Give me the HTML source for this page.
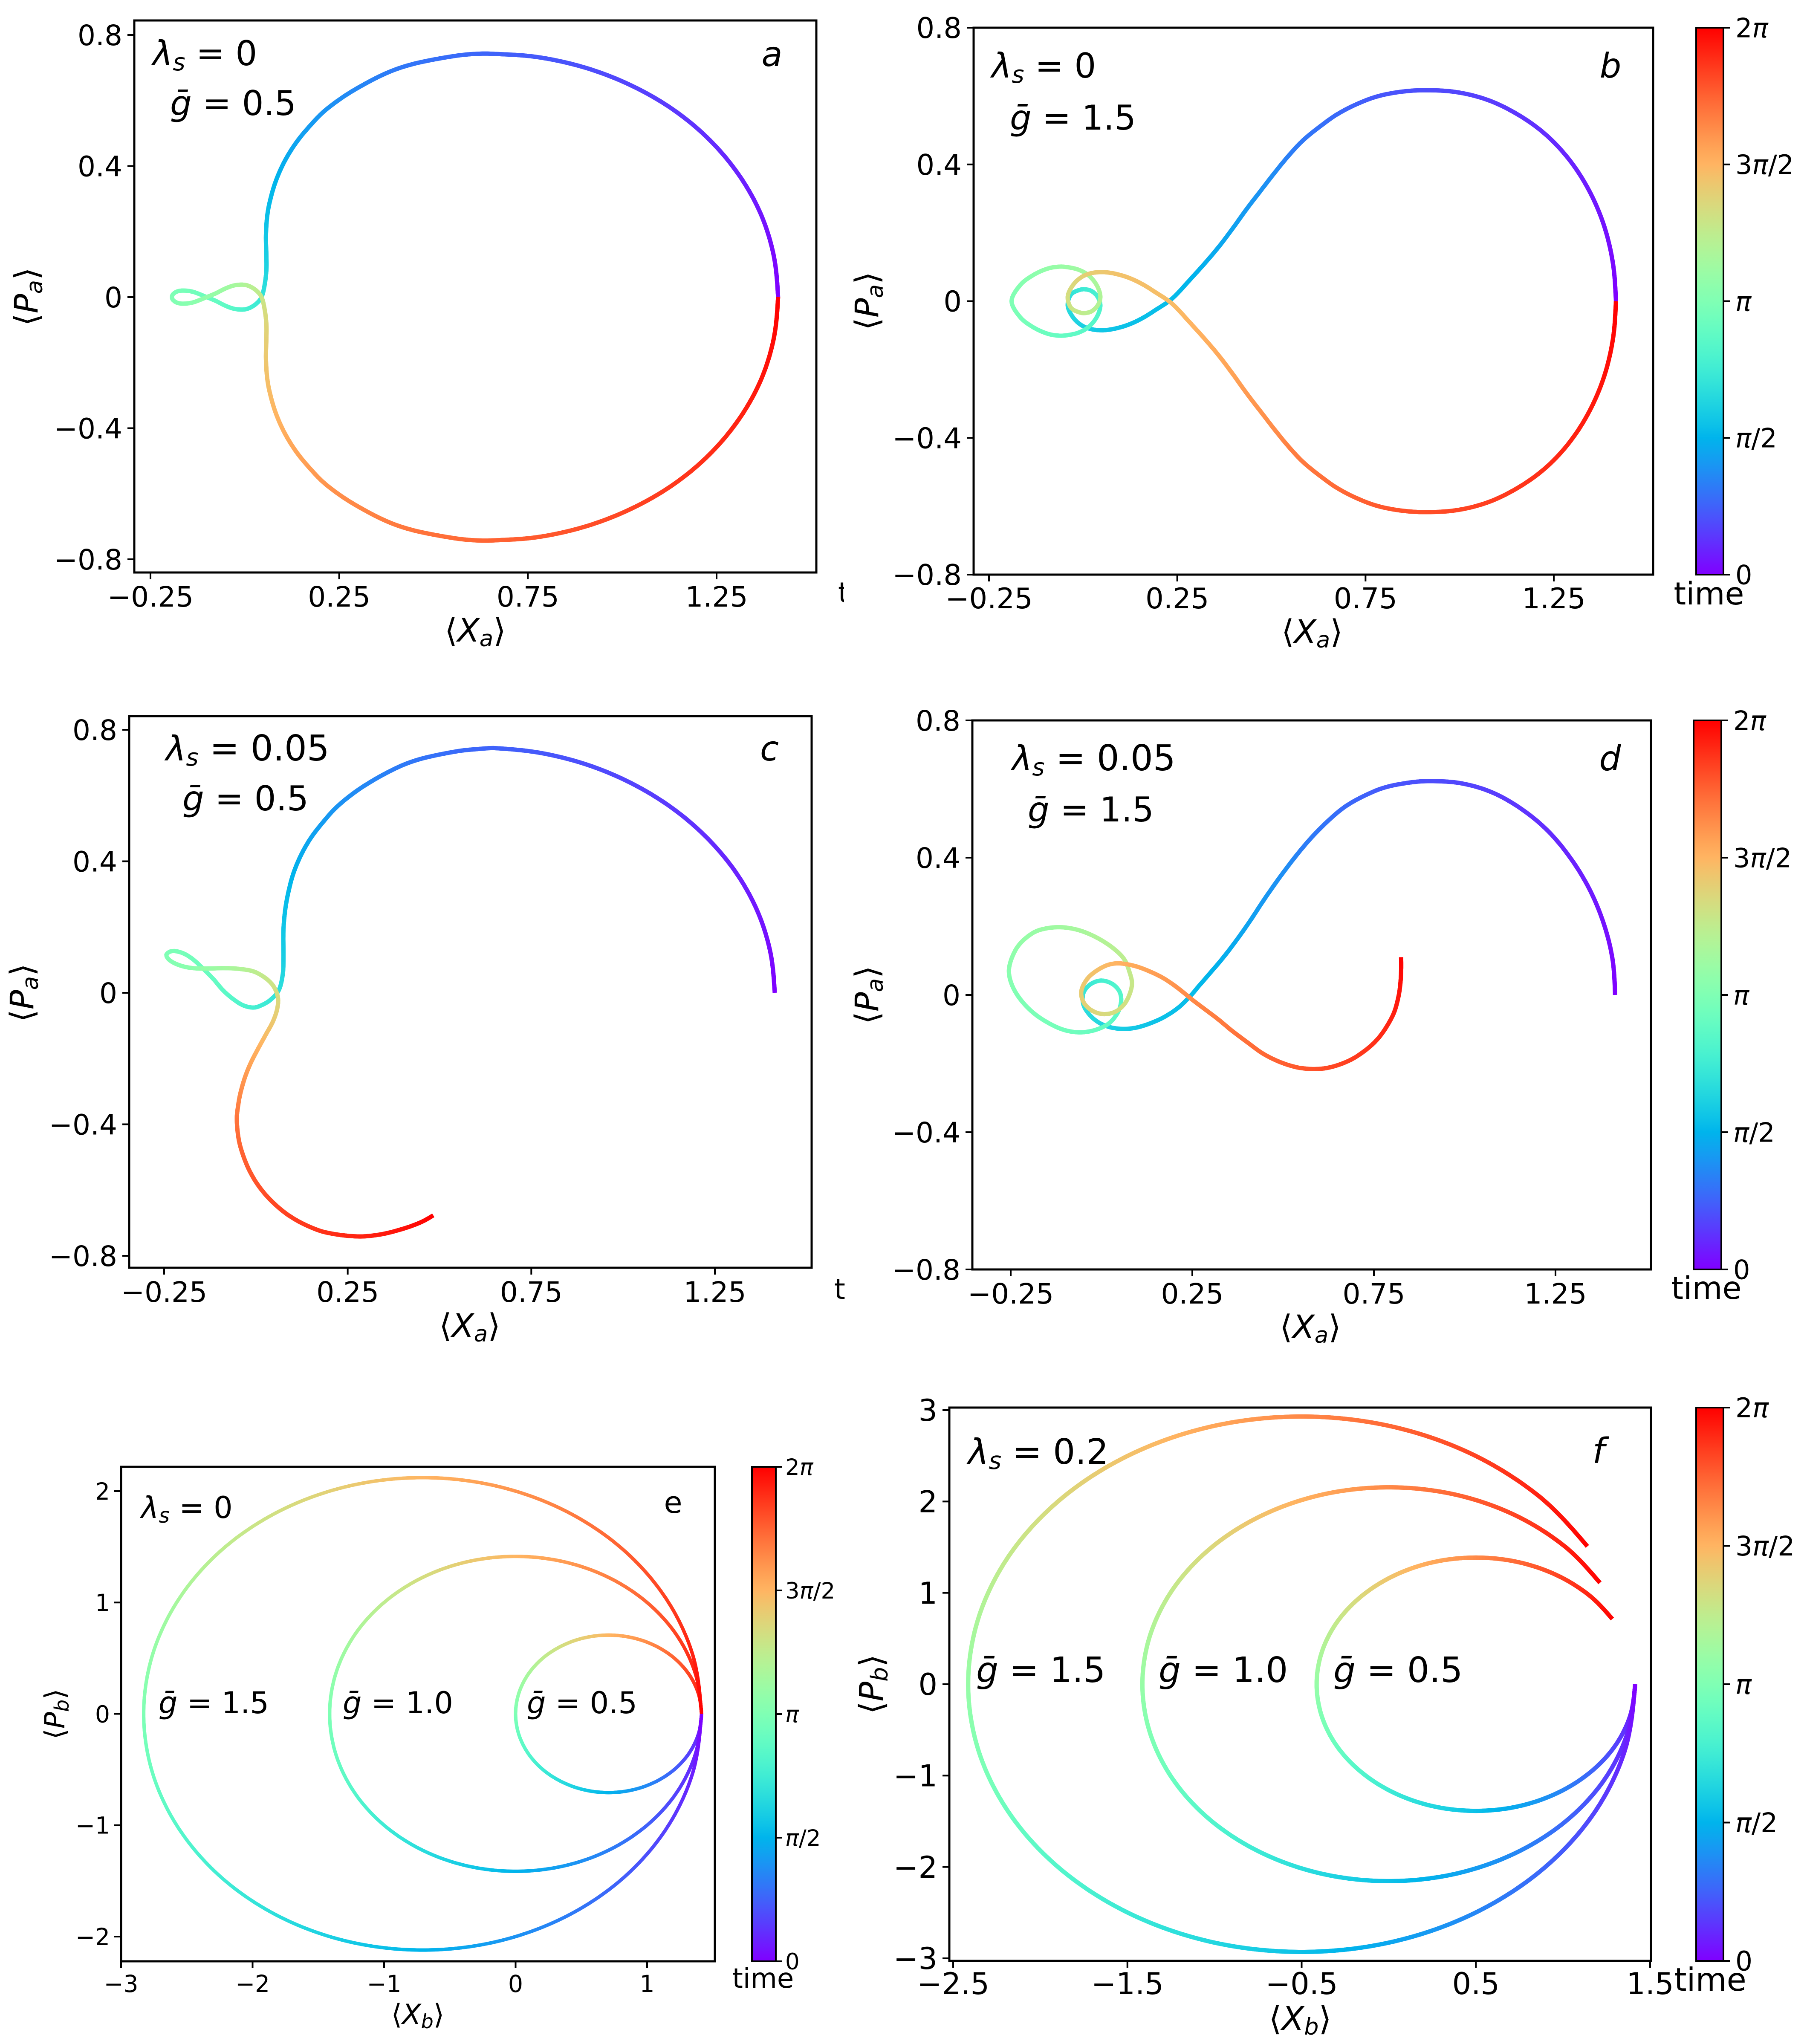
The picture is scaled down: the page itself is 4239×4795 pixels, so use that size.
<!DOCTYPE html>
<html lang="en">
<head>
<meta charset="utf-8">
<title>Phase-space trajectories</title>
<style>
html,body{margin:0;padding:0;background:#fff}
svg{display:block}
text{font-family:"DejaVu Sans","Liberation Sans",sans-serif;fill:#000}
.i{font-style:italic}
</style>
</head>
<body>
<svg id="figure" xmlns="http://www.w3.org/2000/svg" width="4239" height="4795" viewBox="0 0 4239 4795">
<defs>
<linearGradient id="rainbow-grad" x1="0" y1="1" x2="0" y2="0"></linearGradient>
<clipPath id="clip-t"><rect x="1900" y="1340" width="80" height="100"/></clipPath>
</defs>
<rect x="0" y="0" width="4239" height="4795" fill="#fff"/>
<g id="plots"></g>

<g font-size="80">
<text x="358" y="153"><tspan class="i">λ</tspan><tspan class="i" font-size="56" dy="12">s</tspan><tspan dy="-12"> = 0</tspan></text>
<text x="399" y="270"><tspan class="i">ḡ</tspan> = 0.5</text>
<text class="i" x="1811" y="155" text-anchor="middle">a</text>
<text x="1115" y="1505" text-anchor="middle" font-size="76">⟨<tspan class="i">X</tspan><tspan class="i" font-size="53" dy="11">a</tspan><tspan dy="-11">⟩</tspan></text>
<text x="88" y="696" text-anchor="middle" font-size="76" transform="rotate(-90 88 696)">⟨<tspan class="i">P</tspan><tspan class="i" font-size="53" dy="11">a</tspan><tspan dy="-11">⟩</tspan></text>
<text x="1966" y="1413" font-size="66" clip-path="url(#clip-t)">t</text>
</g>

<g font-size="80">
<text x="2326" y="182"><tspan class="i">λ</tspan><tspan class="i" font-size="56" dy="12">s</tspan><tspan dy="-12"> = 0</tspan></text>
<text x="2369" y="304"><tspan class="i">ḡ</tspan> = 1.5</text>
<text class="i" x="3778" y="182" text-anchor="middle">b</text>
<text x="3078" y="1508" text-anchor="middle" font-size="76">⟨<tspan class="i">X</tspan><tspan class="i" font-size="53" dy="11">a</tspan><tspan dy="-11">⟩</tspan></text>
<text x="2060" y="706" text-anchor="middle" font-size="76" transform="rotate(-90 2060 706)">⟨<tspan class="i">P</tspan><tspan class="i" font-size="53" dy="11">a</tspan><tspan dy="-11">⟩</tspan></text>
<text x="4009" y="1418" text-anchor="middle" font-size="73">time</text>
</g>

<g font-size="80">
<text x="389" y="1784"><tspan class="i">λ</tspan><tspan class="i" font-size="56" dy="12">s</tspan><tspan dy="-12" font-size="83"> = 0.05</tspan></text>
<text x="428" y="1901"><tspan class="i">ḡ</tspan> = 0.5</text>
<text class="i" x="1805" y="1784" text-anchor="middle">c</text>
<text x="1102" y="3136" text-anchor="middle" font-size="76">⟨<tspan class="i">X</tspan><tspan class="i" font-size="53" dy="11">a</tspan><tspan dy="-11">⟩</tspan></text>
<text x="78" y="2329" text-anchor="middle" font-size="76" transform="rotate(-90 78 2329)">⟨<tspan class="i">P</tspan><tspan class="i" font-size="53" dy="11">a</tspan><tspan dy="-11">⟩</tspan></text>
<text x="1957" y="3047" font-size="66">t</text>
</g>

<g font-size="80">
<text x="2374" y="1807"><tspan class="i">λ</tspan><tspan class="i" font-size="56" dy="12">s</tspan><tspan dy="-12" font-size="83"> = 0.05</tspan></text>
<text x="2411" y="1927"><tspan class="i">ḡ</tspan> = 1.5</text>
<text class="i" x="3777" y="1807" text-anchor="middle">d</text>
<text x="3074" y="3139" text-anchor="middle" font-size="76">⟨<tspan class="i">X</tspan><tspan class="i" font-size="53" dy="11">a</tspan><tspan dy="-11">⟩</tspan></text>
<text x="2060" y="2334" text-anchor="middle" font-size="76" transform="rotate(-90 2060 2334)">⟨<tspan class="i">P</tspan><tspan class="i" font-size="53" dy="11">a</tspan><tspan dy="-11">⟩</tspan></text>
<text x="4003" y="3047" text-anchor="middle" font-size="73">time</text>
</g>

<g font-size="70">
<text x="331" y="3561"><tspan class="i">λ</tspan><tspan class="i" font-size="49" dy="11">s</tspan><tspan dy="-11"> = 0</tspan></text>
<text x="372" y="4019"><tspan class="i">ḡ</tspan> = 1.5</text>
<text x="804" y="4019"><tspan class="i">ḡ</tspan> = 1.0</text>
<text x="1236" y="4019"><tspan class="i">ḡ</tspan> = 0.5</text>
<text x="1579" y="3549" text-anchor="middle">e</text>
<text x="980" y="4748" text-anchor="middle" font-size="65">⟨<tspan class="i">X</tspan><tspan class="i" font-size="46" dy="10">b</tspan><tspan dy="-10">⟩</tspan></text>
<text x="151" y="4021" text-anchor="middle" font-size="65" transform="rotate(-90 151 4021)">⟨<tspan class="i">P</tspan><tspan class="i" font-size="46" dy="10">b</tspan><tspan dy="-10">⟩</tspan></text>
<text x="1790" y="4663" text-anchor="middle" font-size="64">time</text>
</g>

<g font-size="82">
<text x="2271" y="3434"><tspan class="i">λ</tspan><tspan class="i" font-size="57" dy="12">s</tspan><tspan dy="-12"> = 0.2</tspan></text>
<text x="2290" y="3946"><tspan class="i">ḡ</tspan> = 1.5</text>
<text x="2718" y="3946"><tspan class="i">ḡ</tspan> = 1.0</text>
<text x="3128" y="3946"><tspan class="i">ḡ</tspan> = 0.5</text>
<text class="i" x="3750" y="3432" text-anchor="middle">f</text>
<text x="3050" y="4762" text-anchor="middle" font-size="77">⟨<tspan class="i">X</tspan><tspan class="i" font-size="54" dy="11">b</tspan><tspan dy="-11">⟩</tspan></text>
<text x="2071" y="3951" text-anchor="middle" font-size="77" transform="rotate(-90 2071 3951)">⟨<tspan class="i">P</tspan><tspan class="i" font-size="54" dy="11">b</tspan><tspan dy="-11">⟩</tspan></text>
<text x="4012" y="4670" text-anchor="middle" font-size="75">time</text>
</g>
</svg>

<script>
// ---- tick values and labels ----
const xTicksA = [-0.25, 0.25, 0.75, 1.25];
const xTickLabelsA = ['−0.25', '0.25', '0.75', '1.25'];
const yTicksA = [0.8, 0.4, 0, -0.4, -0.8];
const yTickLabelsA = ['0.8', '0.4', '0', '−0.4', '−0.8'];
const xTicksE = [-3, -2, -1, 0, 1];
const xTickLabelsE = ['−3', '−2', '−1', '0', '1'];
const yTicksE = [2, 1, 0, -1, -2];
const yTickLabelsE = ['2', '1', '0', '−1', '−2'];
const xTicksF = [-2.5, -1.5, -0.5, 0.5, 1.5];
const xTickLabelsF = ['−2.5', '−1.5', '−0.5', '0.5', '1.5'];
const yTicksF = [3, 2, 1, 0, -1, -2, -3];
const yTickLabelsF = ['3', '2', '1', '0', '−1', '−2', '−3'];
const timeTicks = [0, 0.25, 0.5, 0.75, 1];
const timeTickLabels = ['0', 'π/2', 'π', '3π/2', '2π'];

// ---- panel a: time (fraction of 2π), X, P ----
const aT = [0,.014,.028,.043,.057,.071,.085,.1,.114,.128,.134,.14,.15,.157,.165,.175,.185,.198,.21,.222,.235,.25,.26,.27,.285,.3,.315,.34,.365,.38,.395,.41,.425,.44,.45,.46,.47,.478,.485,.492,.497,.5,
.503,.508,.515,.522,.53,.54,.55,.56,.575,.59,.605,.62,.635,.66,.685,.7,.715,.73,.74,.75,.765,.778,.79,.802,.815,.825,.835,.843,.85,.86,.866,.872,.886,.9,.915,.929,.943,.957,.972,.986,1];
const aX = [1.413,1.401,1.367,1.31,1.233,1.139,1.029,.908,.778,.651,.6,.548,.461,.409,.366,.314,.262,.21,.172,.137,.107,.085,.07,.06,.056,.057,.057,.0505,.042,.025,.006,-.011,-.031,-.054,-.076,-.099,-.122,-.14,-.163,-.18,-.191,-.193,
-.191,-.18,-.163,-.14,-.122,-.099,-.076,-.054,-.031,-.011,.006,.025,.042,.0505,.057,.057,.056,.06,.07,.085,.107,.137,.172,.21,.262,.314,.366,.409,.461,.548,.6,.651,.778,.908,1.029,1.139,1.233,1.31,1.367,1.401,1.413];
const aP = [0,.129,.254,.3715,.478,.569,.643,.698,.732,.7427,.7415,.7345,.7156,.6987,.6788,.648,.612,.567,.522,.473,.418,.363,.309,.254,.189,.129,.08,.025,-.005,-.025,-.036,-.038,-.035,-.025,-.012,-.001,.01,.017,.02,.017,.008,0,
-.008,-.017,-.02,-.017,-.01,.001,.012,.025,.035,.038,.036,.025,.005,-.025,-.08,-.129,-.189,-.254,-.309,-.363,-.418,-.473,-.522,-.567,-.612,-.648,-.6788,-.6987,-.7156,-.7345,-.7415,-.7427,-.732,-.698,-.643,-.569,-.478,-.3715,-.254,-.129,0];

// ---- panel b ----
const bT = [0,.011,.022,.033,.044,.056,.067,.078,.089,.1,.105,.115,.127,.137,.145,.156,.165,.185,.195,.205,.22,.23,.24,.25,.26,.265,.268,.27,.273,.277,.285,.295,.305,.32,.335,.35,.365,.375,.385,.395,.405,.415,.425,.435,.445,.45,.46,.475,.488,.5,
.512,.525,.54,.55,.555,.565,.575,.585,.595,.605,.615,.625,.635,.65,.665,.68,.695,.705,.715,.723,.727,.73,.732,.735,.74,.75,.76,.77,.78,.795,.805,.815,.835,.844,.855,.863,.873,.885,.895,.9,.911,.922,.933,.944,.956,.967,.978,.989,1];
const bX = [1.415,1.407,1.384,1.346,1.2945,1.231,1.1575,1.076,.989,.9,.834,.774,.7175,.672,.635,.586,.5485,.511,.4734,.436,.398,.361,.323,.2857,.248,.228,.195,.157,.12,.082,.052,.022,-.005,-.027,-.041,-.032,-.012,.002,.022,.039,.046,.036,.014,-.012,-.039,-.063,-.095,-.133,-.167,-.19,
-.167,-.133,-.095,-.063,-.039,-.012,.014,.036,.046,.039,.022,.002,-.012,-.032,-.041,-.027,-.005,.022,.052,.082,.12,.157,.195,.228,.248,.2857,.323,.361,.398,.436,.4734,.511,.5485,.586,.635,.672,.7175,.774,.834,.9,.989,1.076,1.1575,1.231,1.2945,1.346,1.384,1.407,1.415];
const bP = [0,.111,.219,.319,.409,.485,.544,.588,.612,.617,.611,.5966,.5718,.5448,.516,.4725,.429,.379,.3256,.272,.214,.16,.1105,.065,.0196,0,-.024,-.05,-.069,-.081,-.085,-.082,-.07,-.047,-.013,.02,.032,.035,.03,.012,-.013,-.047,-.076,-.092,-.099,-.101,-.095,-.076,-.047,0,
.047,.076,.095,.101,.099,.092,.076,.047,.013,-.012,-.03,-.035,-.032,-.02,.013,.047,.07,.082,.085,.081,.069,.05,.024,0,-.0196,-.065,-.1105,-.16,-.214,-.272,-.3256,-.379,-.429,-.4725,-.516,-.5448,-.5718,-.5966,-.611,-.617,-.612,-.588,-.544,-.485,-.409,-.319,-.219,-.111,0];

// ---- panel c ----
const cT = [0,.014,.028,.042,.056,.07,.084,.098,.112,.126,.132,.138,.15,.157,.165,.175,.185,.198,.21,.222,.235,.25,.26,.27,.285,
.3,.32,.345,.365,.38,.39,.405,.42,.435,.45,.465,.475,.485,.493,.5,.507,.517,.53,.55,.575,.6,.62,.64,.655,.675,.695,.715,.735,.76,.78,.8,.82,.835,.85,.862,.872,.885,.897,.908,.92,.93,.94,.955,.967,.98,.99,1];
const cX = [1.413,1.401,1.367,1.311,1.235,1.141,1.032,.912,.783,.655,.6,.55,.463,.412,.37,.319,.268,.218,.182,.149,.122,.102,.089,.08,.075,
.075,.073,.062,.038,.011,-.008,-.035,-.062,-.089,-.116,-.147,-.175,-.202,-.229,-.244,-.235,-.206,-.171,-.128,-.082,-.039,-.004,.027,.048,.06,.058,.046,.027,.004,-.016,-.031,-.043,-.049,-.052,-.049,-.041,-.021,.007,.044,.088,.137,.191,.276,.339,.4,.449,.483];
const cP = [0,.124,.2455,.36,.464,.556,.632,.69,.728,.744,.741,.735,.7156,.698,.677,.646,.609,.563,.518,.47,.417,.363,.309,.254,.19,
.103,.055,.007,-.023,-.04,-.045,-.038,-.019,.007,.042,.077,.105,.122,.127,.116,.099,.083,.075,.074,.075,.072,.064,.044,.02,-.014,-.049,-.088,-.127,-.174,-.218,-.261,-.309,-.348,-.38,-.43,-.473,-.533,-.587,-.635,-.676,-.707,-.729,-.741,-.735,-.718,-.698,-.677];

// ---- panel d ----
const dT = [0,.011,.022,.033,.044,.056,.067,.078,.089,.1,.105,.115,.127,.137,.145,.156,.165,.185,.195,.205,.22,.23,.24,.25,.26,.265,
.268,.272,.278,.285,.295,.305,.32,.33,.34,.355,.37,.39,.405,.415,.425,.435,.445,.455,.465,.475,.485,.492,.5,.51,.52,.53,.54,.55,.56,.57,.58,.595,.61,.62,.63,.64,.65,.66,.665,.675,.685,.695,.705,.72,.73,.745,.755,.77,.785,.795,.81,.82,
.83,.838,.85,.858,.866,.873,.88,.887,.893,.9,.908,.916,.924,.932,.94,.947,.955,.962,.97,.978,.99,1];
const dX = [1.414,1.407,1.384,1.346,1.2945,1.231,1.1575,1.076,.989,.898,.836,.775,.719,.674,.638,.59,.553,.517,.48,.444,.408,.372,.336,.3,.264,.25,
.214,.175,.136,.097,.062,.027,-.005,-.032,-.05,-.05,-.032,-.001,.03,.05,.054,.044,.019,-.02,-.063,-.106,-.149,-.189,-.224,-.247,-.255,-.245,-.224,-.185,-.146,-.106,-.06,-.013,.03,.062,.077,.084,.077,.062,.038,.007,-.024,-.048,-.056,-.04,-.013,.019,.05,.093,.136,.175,.214,.25,
.28,.32,.36,.404,.44,.471,.505,.538,.565,.588,.62,.655,.69,.722,.75,.772,.792,.806,.816,.822,.825,.825];
const dP = [0,.104,.204,.303,.394,.476,.541,.59,.617,.623,.617,.603,.578,.551,.521,.472,.428,.38,.327,.272,.214,.16,.11,.065,.021,.003,
-.035,-.063,-.082,-.095,-.099,-.095,-.082,-.059,-.028,.005,.03,.042,.032,.009,-.02,-.053,-.084,-.103,-.109,-.101,-.08,-.051,-.012,.03,.071,.113,.15,.183,.195,.197,.188,.167,.138,.105,.067,.034,.001,-.028,-.049,-.056,-.047,-.024,.009,.046,.071,.088,.092,.084,.067,.046,.017,-.014,
-.038,-.07,-.105,-.14,-.168,-.186,-.201,-.211,-.215,-.216,-.213,-.203,-.187,-.165,-.14,-.113,-.08,-.05,-.013,.024,.07,.11];

// ---- panel e ----
const eT = [0,.0417,.0833,.125,.1667,.2083,.25,.2917,.3333,.375,.4167,.4583,.5,.5417,.5833,.625,.6667,.7083,.75,.7917,.8333,.875,.9167,.9583,1];
const e05X = [1.414,1.39,1.319,1.207,1.061,.89,.707,.524,.354,.207,.095,.024,0,.024,.095,.207,.354,.524,.707,.89,1.061,1.207,1.319,1.39,1.414];
const e05P = [0,-.183,-.354,-.5,-.612,-.683,-.707,-.683,-.612,-.5,-.354,-.183,0,.183,.354,.5,.612,.683,.707,.683,.612,.5,.354,.183,0];
const e10X = [1.414,1.366,1.225,1,.707,.366,0,-.366,-.707,-1,-1.225,-1.366,-1.414,-1.366,-1.225,-1,-.707,-.366,0,.366,.707,1,1.225,1.366,1.414];
const e10P = [0,-.366,-.707,-1,-1.225,-1.366,-1.414,-1.366,-1.225,-1,-.707,-.366,0,.366,.707,1,1.225,1.366,1.414,1.366,1.225,1,.707,.366,0];
const e15X = [1.414,1.342,1.13,.793,.354,-.158,-.707,-1.256,-1.768,-2.207,-2.544,-2.756,-2.828,-2.756,-2.544,-2.207,-1.768,-1.256,-.707,-.158,.354,.793,1.13,1.342,1.414];
const e15P = [0,-.549,-1.06,-1.5,-1.837,-2.049,-2.121,-2.049,-1.837,-1.5,-1.06,-.549,0,.549,1.06,1.5,1.837,2.049,2.121,2.049,1.837,1.5,1.06,.549,0];

// ---- panel f ----
const fT = [0,.0456,.0912,.1368,.1824,.228,.2736,.3191,.3647,.4103,.4559,.5015,.5471,.5927,.6383,.6839,.7295,.7751,.8207,.8663,.9119,.9574,1];
const f05X = [1.414,1.383,1.292,1.146,.957,.737,.5,.263,.043,-.146,-.292,-.383,-.414,-.383,-.292,-.146,.043,.263,.5,.737,.957,1.146,1.283];
const f05P = [0,-.359,-.693,-.98,-1.2,-1.339,-1.386,-1.339,-1.2,-.98,-.693,-.359,0,.359,.693,.98,1.2,1.339,1.386,1.339,1.2,.98,.714];
const f10X = [1.414,1.366,1.225,1,.707,.366,0,-.366,-.707,-1,-1.225,-1.366,-1.414,-1.366,-1.225,-1,-.707,-.366,0,.366,.707,1,1.212];
const f10P = [0,-.558,-1.078,-1.524,-1.866,-2.082,-2.155,-2.082,-1.866,-1.524,-1.078,-.558,0,.558,1.078,1.524,1.866,2.082,2.155,2.082,1.866,1.524,1.11];
const f15X = [1.414,1.349,1.158,.853,.457,-.004,-.5,-.996,-1.457,-1.853,-2.158,-2.349,-2.414,-2.349,-2.158,-1.853,-1.457,-.996,-.5,-.004,.457,.853,1.14];
const f15P = [0,-.759,-1.465,-2.072,-2.537,-2.83,-2.93,-2.83,-2.537,-2.072,-1.465,-.759,0,.759,1.465,2.072,2.537,2.83,2.93,2.83,2.537,2.072,1.509];

// ---- layout: frame edges and axis anchors in page pixels ----
const layouts = [
 {id:'a',l:315,r:1915,t:48,b:1343,xa:[-0.25,353,1.25,1681],ya:[0.8,82,-0.8,1312],fs:66,xo:80,gap:28,w:10,
  xt:xTicksA,xl:xTickLabelsA,yt:yTicksA,yl:yTickLabelsA,
  curves:[{n:'a',t:aT,x:aX,p:aP}]},
 {id:'b',l:2284,r:3878,t:65,b:1348,xa:[-0.25,2320,1.25,3645],ya:[0.8,65,-0.8,1348],fs:67,xo:79,gap:28,w:10,
  xt:xTicksA,xl:xTickLabelsA,yt:yTicksA,yl:yTickLabelsA,cb:{l:3979,r:4043,fs:62,lx:4071},
  curves:[{n:'b',t:bT,x:bX,p:bP}]},
 {id:'c',l:303,r:1904,t:1680,b:2974,xa:[-0.25,385,1.25,1677],ya:[0.8,1712,-0.8,2946],fs:66,xo:80,gap:28,w:10,
  xt:xTicksA,xl:xTickLabelsA,yt:yTicksA,yl:yTickLabelsA,
  curves:[{n:'c',t:cT,x:cX,p:cP}]},
 {id:'d',l:2281,r:3873,t:1690,b:2978,xa:[-0.25,2371,1.25,3649],ya:[0.8,1690,-0.8,2978],fs:66,xo:80,gap:28,w:10,
  xt:xTicksA,xl:xTickLabelsA,yt:yTicksA,yl:yTickLabelsA,cb:{l:3973,r:4038,fs:62,lx:4066},
  curves:[{n:'d',t:dT,x:dX,p:dP}]},
 {id:'e',l:284,r:1677,t:3441,b:4601,xa:[-3,284,1,1518],ya:[2,3498,-2,4543],fs:55,xo:72,gap:26,w:8,
  xt:xTicksE,xl:xTickLabelsE,yt:yTicksE,yl:yTickLabelsE,cb:{l:1764,r:1820,fs:53,lx:1842},
  curves:[{n:'e-g05',t:eT,x:e05X,p:e05P},{n:'e-g10',t:eT,x:e10X,p:e10P},{n:'e-g15',t:eT,x:e15X,p:e15P}]},
 {id:'f',l:2227,r:3873,t:3302,b:4600,xa:[-2.5,2236,1.5,3871],ya:[3,3308,-3,4594],fs:70,xo:78,gap:28,w:10,
  xt:xTicksF,xl:xTickLabelsF,yt:yTicksF,yl:yTickLabelsF,cb:{l:3979,r:4043,fs:63,lx:4071},
  curves:[{n:'f-g05',t:fT,x:f05X,p:f05P},{n:'f-g10',t:fT,x:f10X,p:f10P},{n:'f-g15',t:fT,x:f15X,p:f15P}]}
];

const NS = 'http://www.w3.org/2000/svg';
function mk(tag, parent, attrs) {
  const e = document.createElementNS(NS, tag);
  for (const k in attrs) e.setAttribute(k, attrs[k]);
  parent.appendChild(e);
  return e;
}
function rainbow(v) {
  v = Math.max(0, Math.min(1, v));
  const c = n => Math.round(255 * Math.max(0, Math.min(1, n)));
  return 'rgb(' + c(Math.abs(2 * v - 0.5)) + ',' + c(Math.sin(Math.PI * v)) + ',' + c(Math.cos(Math.PI * v / 2)) + ')';
}
function linear(a) {
  const k = (a[3] - a[1]) / (a[2] - a[0]);
  return v => a[1] + (v - a[0]) * k;
}

// colorbar gradient
const grad = document.getElementById('rainbow-grad');
for (let i = 0; i <= 40; i++) {
  mk('stop', grad, {offset: (i / 40), 'stop-color': rainbow(i / 40)});
}

// dense smooth sampling (chord-length Hermite) of the read points, in pixel space
function sampleCurve(px, py, ts) {
  const out = [];
  const n = px.length;
  const dist = (i, j) => Math.hypot(px[i] - px[j], py[i] - py[j]) || 1e-6;
  for (let i = 0; i < n - 1; i++) {
    const i0 = i - 1, i2 = i + 1, i3 = i + 2;
    const d1 = dist(i, i2);
    let mx1, my1, mx2, my2;
    if (i0 >= 0) {
      const d0 = dist(i0, i);
      mx1 = (px[i2] - px[i0]) / (d0 + d1) * d1;
      my1 = (py[i2] - py[i0]) / (d0 + d1) * d1;
    }
    if (i3 <= n - 1) {
      const d2 = dist(i2, i3);
      mx2 = (px[i3] - px[i]) / (d1 + d2) * d1;
      my2 = (py[i3] - py[i]) / (d1 + d2) * d1;
    }
    if (i0 < 0 && i3 <= n - 1) {
      mx1 = 1.5 * (px[i2] - px[i]) - 0.5 * mx2;
      my1 = 1.5 * (py[i2] - py[i]) - 0.5 * my2;
    }
    if (i3 > n - 1 && i0 >= 0) {
      mx2 = 1.5 * (px[i2] - px[i]) - 0.5 * mx1;
      my2 = 1.5 * (py[i2] - py[i]) - 0.5 * my1;
    }
    const steps = Math.max(2, Math.ceil(d1 / 7));
    for (let s = 0; s < steps; s++) {
      const u = s / steps, u2 = u * u, u3 = u2 * u;
      const h00 = 2 * u3 - 3 * u2 + 1, h10 = u3 - 2 * u2 + u, h01 = -2 * u3 + 3 * u2, h11 = u3 - u2;
      out.push({
        x: h00 * px[i] + h10 * mx1 + h01 * px[i2] + h11 * mx2,
        y: h00 * py[i] + h10 * my1 + h01 * py[i2] + h11 * my2,
        t: ts[i] + (ts[i2] - ts[i]) * u
      });
    }
  }
  out.push({x: px[n - 1], y: py[n - 1], t: ts[n - 1]});
  return out;
}

const root = document.getElementById('plots');
layouts.forEach(function (P) {
  const g = mk('g', root, {});
  
  
  const sx = linear(P.xa), sy = linear(P.ya);

  P.curves.forEach(function (C) {
    const cg = mk('g', g, {fill: 'none', 'stroke-width': P.w, 'stroke-linecap': 'butt', 'stroke-linejoin': 'round'});
    
    
    const pts = sampleCurve(C.x.map(sx), C.p.map(sy), C.t);
    for (let i = 0; i < pts.length - 1; i++) {
      const a = pts[i], b = pts[i + 1], c = pts[Math.min(i + 2, pts.length - 1)];
      const d = 'M' + a.x.toFixed(1) + ' ' + a.y.toFixed(1) + 'L' + b.x.toFixed(1) + ' ' + b.y.toFixed(1) + 'L' + c.x.toFixed(1) + ' ' + c.y.toFixed(1);
      const seg = mk('path', cg, {d: d, stroke: rainbow(a.t)});
      
      
    }
  });

  const frame = mk('rect', g, {x: P.l, y: P.t, width: P.r - P.l, height: P.b - P.t, fill: 'none', stroke: '#000', 'stroke-width': 5});
  
  

  P.xt.forEach(function (v, i) {
    const x = sx(v);
    const tick = mk('line', g, {x1: x, x2: x, y1: P.b, y2: P.b + 16, stroke: '#000', 'stroke-width': 4});
    
    
    const lab = mk('text', g, {x: x, y: P.b + P.xo, 'text-anchor': 'middle', 'font-size': P.fs});
    lab.textContent = P.xl[i];
    
    
  });
  P.yt.forEach(function (v, i) {
    const y = sy(v);
    const tick = mk('line', g, {x1: P.l - 16, x2: P.l, y1: y, y2: y, stroke: '#000', 'stroke-width': 4});
    
    
    const lab = mk('text', g, {x: P.l - P.gap, y: y + P.fs * 0.36, 'text-anchor': 'end', 'font-size': P.fs});
    lab.textContent = P.yl[i];
    
    
  });

  if (P.cb) {
    const bar = mk('rect', g, {x: P.cb.l, y: P.t, width: P.cb.r - P.cb.l, height: P.b - P.t, fill: 'url(#rainbow-grad)', stroke: '#000', 'stroke-width': 4});
    
    
    timeTicks.forEach(function (v, i) {
      const y = P.b - v * (P.b - P.t);
      const tick = mk('line', g, {x1: P.cb.r, x2: P.cb.r + 15, y1: y, y2: y, stroke: '#000', 'stroke-width': 4});
      
      
      const lab = mk('text', g, {x: P.cb.lx, y: y + P.cb.fs * 0.36, 'font-size': P.cb.fs});
      timeTickLabels[i].split(/(π)/).forEach(function (part) {
        if (!part) return;
        const span = mk('tspan', lab, part === 'π' ? {'font-style': 'italic'} : {});
        span.textContent = part;
      });
      
      
    });
  }
});
</script>
</body>
</html>
